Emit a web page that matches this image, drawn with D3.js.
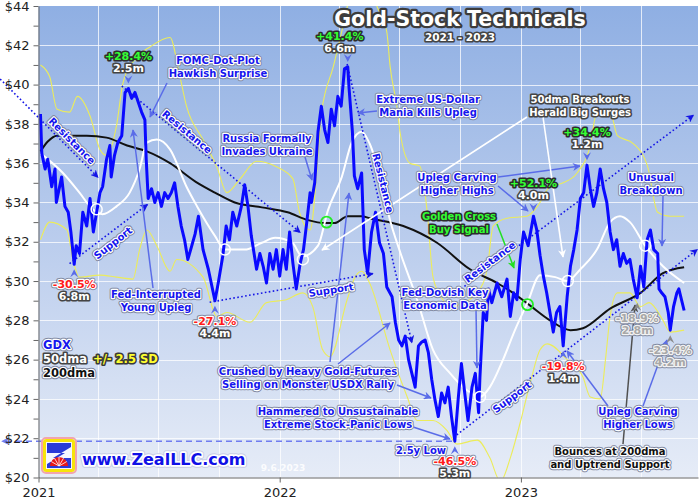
<!DOCTYPE html>
<html>
<head>
<meta charset="utf-8">
<script src="https://cdn.jsdelivr.net/npm/d3@7"></script>
<style>
  body { margin: 0; background: #fff; }
  svg { display: block; }
</style>
</head>
<body>
<svg id="chart" width="700" height="500"></svg>
<script>
// GDX closes (roughly every few trading days)
const gdxDates = ['2021-01-04','2021-01-06','2021-01-11','2021-01-15','2021-01-21','2021-01-26','2021-01-28','2021-02-05','2021-02-10','2021-02-15','2021-02-19','2021-02-24','2021-02-27','2021-03-04','2021-03-09','2021-03-15','2021-03-20','2021-03-25','2021-03-30','2021-04-04','2021-04-08','2021-04-14','2021-04-19','2021-04-21','2021-04-26','2021-05-01','2021-05-07','2021-05-12','2021-05-17','2021-05-22','2021-05-27','2021-06-01','2021-06-06','2021-06-11','2021-06-13','2021-06-16','2021-06-21','2021-06-26','2021-07-01','2021-07-06','2021-07-11','2021-07-16','2021-07-21','2021-07-26','2021-07-31','2021-08-05','2021-08-10','2021-08-15','2021-08-21','2021-08-26','2021-08-31','2021-09-07','2021-09-15','2021-09-25','2021-09-30','2021-10-07','2021-10-12','2021-10-17','2021-10-22','2021-10-28','2021-11-04','2021-11-09','2021-11-14','2021-11-19','2021-11-27','2021-12-02','2021-12-07','2021-12-12','2021-12-17','2021-12-22','2021-12-27','2022-01-01','2022-01-06','2022-01-11','2022-01-16','2022-01-21','2022-01-26','2022-02-01','2022-02-06','2022-02-11','2022-02-16','2022-02-18','2022-02-23','2022-02-28','2022-03-05','2022-03-10','2022-03-15','2022-03-20','2022-03-25','2022-03-30','2022-04-04','2022-04-09','2022-04-14','2022-04-16','2022-04-21','2022-04-24','2022-04-29','2022-05-05','2022-05-09','2022-05-14','2022-05-20','2022-05-26','2022-06-01','2022-06-07','2022-06-12','2022-06-20','2022-06-25','2022-06-30','2022-07-05','2022-07-10','2022-07-15','2022-07-20','2022-07-25','2022-07-30','2022-08-04','2022-08-09','2022-08-14','2022-08-19','2022-08-24','2022-08-29','2022-09-03','2022-09-08','2022-09-13','2022-09-18','2022-09-23','2022-09-28','2022-10-03','2022-10-08','2022-10-13','2022-10-19','2022-10-24','2022-10-29','2022-10-31','2022-11-05','2022-11-10','2022-11-13','2022-11-18','2022-11-26','2022-12-03','2022-12-11','2022-12-16','2022-12-21','2022-12-26','2022-12-31','2023-01-05','2023-01-12','2023-01-20','2023-01-25','2023-01-30','2023-02-04','2023-02-09','2023-02-14','2023-02-19','2023-02-24','2023-03-01','2023-03-06','2023-03-12','2023-03-17','2023-03-22','2023-03-27','2023-04-01','2023-04-06','2023-04-11','2023-04-16','2023-04-21','2023-04-26','2023-05-01','2023-05-06','2023-05-11','2023-05-16','2023-05-21','2023-05-26','2023-05-31','2023-06-05','2023-06-10','2023-06-15','2023-06-20','2023-06-26','2023-07-01','2023-07-06','2023-07-11','2023-07-16','2023-07-21','2023-07-27','2023-07-29','2023-08-02','2023-08-07','2023-08-12','2023-08-15','2023-08-20','2023-08-25','2023-08-28','2023-09-05'];
const gdxClose = [38.5,36.5,35.7,36.2,34.8,35.7,34.0,35.3,33.8,33.5,32.5,30.85,31.8,31.4,33.5,32.8,34.2,32.5,33.5,34.5,34.8,36.2,36.9,35.3,36.4,37.05,37.4,39.6,39.8,39.3,39.6,39.1,38.6,38.2,36.2,34.2,34.7,34.0,34.5,33.8,34.5,34.2,34.5,35.0,33.8,32.8,32.1,31.1,31.8,32.4,33.3,31.6,30.6,29.0,29.9,31.3,32.8,32.1,33.5,32.8,33.8,34.9,33.8,32.3,30.6,31.4,30.75,29.9,31.4,30.6,31.6,30.25,31.6,30.6,32.5,30.9,29.6,30.9,31.6,33.0,34.5,34.0,35.0,37.6,38.9,37.7,37.05,38.75,37.9,39.4,38.9,40.8,40.9,39.8,37.6,35.35,34.7,35.5,31.6,30.4,32.5,33.5,31.95,31.4,29.7,29.2,27.9,27.0,26.7,27.2,26.0,25.3,24.6,26.7,26.9,27.0,26.35,25.0,23.95,23.1,24.3,23.8,24.6,23.1,21.85,23.95,25.8,24.3,22.9,24.6,25.3,23.3,25.1,28.4,28.0,29.6,28.9,29.9,29.2,30.1,28.2,29.4,29.05,31.1,32.5,31.8,33.3,32.6,31.3,30.25,29.4,28.4,27.4,28.4,28.7,26.7,29.2,30.75,31.6,32.6,34.2,34.5,35.9,34.7,33.8,34.5,35.7,34.7,34.0,32.5,31.6,32.1,30.75,31.4,30.9,31.1,30.1,29.15,30.75,29.7,32.1,32.6,31.6,31.4,29.6,29.4,29.2,28.4,27.5,28.7,29.4,29.6,28.5];

// 50-day moving average (white)
const dma50Dates = ['2021-01-04','2021-02-07','2021-03-04','2021-03-24','2021-04-08','2021-04-29','2021-05-19','2021-06-03','2021-06-14','2021-06-29','2021-07-19','2021-08-13','2021-08-29','2021-09-25','2021-10-10','2021-11-09','2021-12-05','2021-12-25','2022-01-20','2022-02-04','2022-02-28','2022-03-15','2022-04-05','2022-04-20','2022-05-05','2022-05-17','2022-06-02','2022-06-17','2022-07-02','2022-07-28','2022-08-21','2022-09-16','2022-10-09','2022-10-31','2022-11-15','2022-12-05','2022-12-23','2023-01-11','2023-01-30','2023-02-22','2023-03-12','2023-04-01','2023-04-26','2023-05-16','2023-05-31','2023-06-15','2023-07-08','2023-08-04','2023-09-05'];
const dma50Values = [36.5,35.5,34.5,33.65,33.4,33.8,34.5,35.7,37.05,37.2,36.7,34.8,33.8,32.3,31.6,31.6,31.95,32.2,31.95,31.25,31.8,33.6,35.3,37.05,37.6,37.0,35.3,33.1,31.5,29.05,26.5,25.3,24.5,24.1,24.6,26.0,27.5,28.9,30.3,30.2,30.0,30.6,31.6,33.0,33.3,33.0,31.8,30.75,29.9];

// 200-day moving average (black)
const dma200Dates = ['2021-01-04','2021-01-15','2021-01-29','2021-03-15','2021-04-14','2021-05-15','2021-06-14','2021-07-19','2021-08-27','2021-09-25','2021-10-25','2021-12-05','2022-01-13','2022-02-13','2022-03-10','2022-03-25','2022-04-14','2022-05-05','2022-05-17','2022-07-07','2022-08-27','2022-10-16','2022-11-26','2022-12-20','2023-01-15','2023-02-14','2023-03-17','2023-04-05','2023-05-16','2023-07-01','2023-08-04','2023-09-05'];
const dma200Values = [36.6,37.1,37.4,37.4,37.3,36.9,36.6,36.0,35.05,34.5,34.0,33.75,33.5,33.1,32.95,32.95,33.3,33.3,33.2,32.8,31.95,30.6,29.9,29.4,28.75,28.0,27.5,27.6,28.6,29.4,30.4,30.7];

// 50dma +/- 2.5 standard deviations (yellow)
const upperDates = ['2021-01-04','2021-01-18','2021-01-29','2021-02-17','2021-03-01','2021-03-20','2021-04-04','2021-04-14','2021-04-29','2021-05-09','2021-05-30','2021-06-18','2021-07-19','2021-08-03','2021-08-13','2021-09-07','2021-09-28','2021-10-13','2021-11-02','2021-11-27','2021-12-28','2022-01-21','2022-01-31','2022-02-16','2022-03-06','2022-03-23','2022-04-07','2022-04-25','2022-05-10','2022-05-28','2022-06-12','2022-06-17','2022-06-28','2022-07-02','2022-07-17','2022-08-01','2022-08-12','2022-08-21','2022-09-05','2022-09-20','2022-10-06','2022-10-27','2022-11-11','2022-11-20','2022-12-11','2023-01-10','2023-01-26','2023-02-14','2023-03-06','2023-03-27','2023-04-16','2023-04-26','2023-05-16','2023-05-27','2023-06-20','2023-07-12','2023-07-27','2023-08-15','2023-09-05'];
const upperValues = [41.0,40.4,38.75,38.6,39.4,38.4,36.7,36.4,37.9,40.1,41.4,41.9,42.4,40.4,38.9,37.2,35.8,34.5,35.2,36.1,35.8,35.2,33.5,32.6,38.75,40.9,43.0,45.5,46.0,44.0,42.7,40.95,38.75,37.6,36.0,35.85,33.6,30.2,29.05,28.7,28.9,29.4,30.6,32.8,33.2,33.3,33.8,34.8,35.0,35.5,36.9,38.6,38.6,37.4,37.0,35.8,33.5,33.3,33.3];
const lowerDates = ['2021-01-04','2021-01-18','2021-02-13','2021-02-22','2021-03-04','2021-04-04','2021-04-29','2021-05-24','2021-06-03','2021-06-14','2021-06-29','2021-07-19','2021-07-29','2021-09-07','2021-09-28','2021-10-13','2021-11-17','2021-12-12','2022-01-11','2022-02-05','2022-02-20','2022-03-07','2022-03-18','2022-04-13','2022-04-25','2022-05-05','2022-05-17','2022-06-17','2022-07-13','2022-07-28','2022-08-21','2022-09-11','2022-09-26','2022-10-27','2022-11-15','2022-12-01','2022-12-16','2022-12-31','2023-01-15','2023-01-30','2023-02-10','2023-03-12','2023-04-05','2023-04-16','2023-05-01','2023-05-09','2023-05-16','2023-05-27','2023-06-15','2023-07-01','2023-07-14','2023-08-04','2023-08-15','2023-09-05'];
const lowerValues = [32.1,33.0,32.6,31.1,30.2,30.3,30.2,30.1,31.6,32.6,31.8,30.5,31.1,30.2,28.2,28.4,27.9,28.9,29.05,29.4,28.7,26.5,26.15,29.05,30.2,30.5,29.9,26.5,24.1,22.9,22.9,22.4,21.7,21.9,21.0,19.8,21.0,22.8,24.8,26.5,26.8,26.0,25.1,24.1,24.0,26.0,28.2,29.4,29.4,28.7,28.9,28.0,27.4,27.5];

// swing highs / lows with % move and duration
const swingDates = ['2021-02-24','2021-05-17','2021-09-25','2022-04-14','2022-09-23','2023-01-20','2023-03-06','2023-04-11','2023-06-26','2023-08-15'];
const swingPct = ['-30.5%','+28.4%','-27.1%','+41.4%','-46.5%','+52.1%','-19.8%','+34.4%','-18.9%','-23.4%'];
const swingDur = ['6.8m','2.5m','4.4m','6.6m','5.3m','4.0m','1.4m','1.2m','2.8m','4.2m'];

// 50dma crossing points (white rings) and 50/200 crosses (green rings)
const crossDates = ['2021-03-30','2021-10-10','2022-02-05','2022-10-31','2023-03-13','2023-07-08'];
const crossValues = [33.65,31.6,31.1,24.1,30.0,31.8];
const goldenDates = ['2022-03-13','2023-01-11'];
const goldenValues = [33.0,28.8];

// dotted trend channels: start date/price -> end date/price
const trendStart = ['2020-11-04','2021-02-17','2021-05-07','2021-09-17','2022-04-13','2022-09-23','2022-09-26'];
const trendStartPrice = [40.28,30.89,39.92,28.92,41.05,29.36,22.17];
const trendEnd = ['2021-04-01','2021-06-15','2022-02-01','2022-05-22','2022-07-20','2023-09-19','2023-09-25'];
const trendEndPrice = [35.28,33.9,32.47,30.38,26.86,38.44,31.61];
const lowLinePrice = 21.85;

const yTicks = d3.range(20, 45, 1);
const yearTicks = ['2021-01-01','2022-01-01','2023-01-01'];
const quarterTicks = ['2021-04-01','2021-07-01','2021-10-01','2022-01-01','2022-04-01','2022-07-01','2022-10-01','2023-01-01','2023-04-01','2023-07-01'];

const parse = d3.timeParse('%Y-%m-%d');
const zip = (ds, vs) => ds.map((d, i) => ({date: parse(d), value: vs[i]}));
const gdx = zip(gdxDates, gdxClose);
const dma50 = zip(dma50Dates, dma50Values);
const dma200 = zip(dma200Dates, dma200Values);
const upper = zip(upperDates, upperValues);
const lower = zip(lowerDates, lowerValues);

const plot = {left: 38.5, right: 698, top: 6, bottom: 477.5};
const x = d3.scaleTime().domain([parse('2021-01-01'), parse('2023-09-26')]).range([plot.left, plot.right]);
const y = d3.scaleLinear().domain([20, 44]).range([plot.bottom, plot.top]);

const svg = d3.select('#chart');
const defs = svg.append('defs');

const grad = defs.append('linearGradient').attr('id', 'bg').attr('x1', 0).attr('y1', 0).attr('x2', 0).attr('y2', 1);
grad.append('stop').attr('offset', '0%').attr('stop-color', '#8fafe3');
grad.append('stop').attr('offset', '55%').attr('stop-color', '#bfd0ee');
grad.append('stop').attr('offset', '100%').attr('stop-color', '#e6ecf7');

defs.append('clipPath').attr('id', 'clip')
    .append('rect')
    .attr('x', plot.left).attr('y', plot.top)
    .attr('width', plot.right - plot.left).attr('height', plot.bottom - plot.top);

// arrowhead markers, one per colour
const markerColors = {blue: '#5a6ce8', dot: '#1414e6', white: '#ffffff', green: '#22e022', gray: '#505050', dash: '#6f7cf0'};
Object.entries(markerColors).forEach(([k, c]) => {
    defs.append('marker')
        .attr('id', 'arrow-' + k)
        .attr('viewBox', '0 0 10 10')
        .attr('refX', 9).attr('refY', 5)
        .attr('markerWidth', 8).attr('markerHeight', 8)
        .attr('markerUnits', 'userSpaceOnUse')
        .attr('orient', 'auto-start-reverse')
        .append('path')
        .attr('d', 'M0,0 L10,5 L0,10 L3,5 Z')
        .attr('fill', c);
});

// background + grid
svg.append('rect')
    .attr('x', plot.left).attr('y', plot.top)
    .attr('width', plot.right - plot.left).attr('height', plot.bottom - plot.top)
    .attr('fill', 'url(#bg)');

const grid = svg.append('g').attr('stroke', '#ffffff').attr('stroke-opacity', 0.75).attr('stroke-width', 1);
grid.selectAll('.hgrid')
    .data(d3.range(22, 44, 2))
    .enter().append('line')
    .attr('x1', plot.left).attr('x2', plot.right)
    .attr('y1', d => Math.round(y(d)) + 0.5).attr('y2', d => Math.round(y(d)) + 0.5);
grid.selectAll('.vgrid')
    .data(quarterTicks.map(parse))
    .enter().append('line')
    .attr('y1', plot.top).attr('y2', plot.bottom)
    .attr('x1', d => Math.round(x(d)) + 0.5).attr('x2', d => Math.round(x(d)) + 0.5);

// series
const series = svg.append('g').attr('clip-path', 'url(#clip)');
const smooth = d3.line().x(d => x(d.date)).y(d => y(d.value)).curve(d3.curveMonotoneX);
const straight = d3.line().x(d => x(d.date)).y(d => y(d.value));

series.append('path').datum(upper).attr('d', smooth)
    .attr('fill', 'none').attr('stroke', '#ecec5a').attr('stroke-width', 1.1);
series.append('path').datum(lower).attr('d', smooth)
    .attr('fill', 'none').attr('stroke', '#ecec5a').attr('stroke-width', 1.1);
series.append('path').datum(dma200).attr('d', smooth)
    .attr('fill', 'none').attr('stroke', '#111111').attr('stroke-width', 2);
series.append('path').datum(dma50).attr('d', smooth)
    .attr('fill', 'none').attr('stroke', '#ffffff').attr('stroke-width', 2);

// 2.5y low dashed reference line
svg.append('line')
    .attr('x1', 452).attr('x2', 2)
    .attr('y1', y(lowLinePrice)).attr('y2', y(lowLinePrice))
    .attr('stroke', '#6f7cf0').attr('stroke-width', 1.5).attr('stroke-dasharray', '6,4')
    .attr('marker-end', 'url(#arrow-dash)');

// trend channels
const trends = trendStart.map((d, i) => ({
    x1: x(parse(d)), y1: y(trendStartPrice[i]),
    x2: x(parse(trendEnd[i])), y2: y(trendEndPrice[i])
}));
svg.append('g').selectAll('line')
    .data(trends)
    .enter().append('line')
    .attr('x1', d => d.x1).attr('y1', d => d.y1)
    .attr('x2', d => d.x2).attr('y2', d => d.y2)
    .attr('stroke', '#1414e6').attr('stroke-width', 1.6).attr('stroke-dasharray', '1.6,2.4')
    .attr('marker-end', 'url(#arrow-dot)');

series.append('path').datum(gdx).attr('d', straight)
    .attr('fill', 'none').attr('stroke', '#0a0aff').attr('stroke-width', 3)
    .attr('stroke-linejoin', 'round');

// rings
svg.append('g').selectAll('circle')
    .data(crossDates.map((d, i) => ({date: parse(d), value: crossValues[i]})))
    .enter().append('circle')
    .attr('cx', d => x(d.date)).attr('cy', d => y(d.value)).attr('r', 5.5)
    .attr('fill', 'none').attr('stroke', '#ffffff').attr('stroke-width', 1.5);
svg.append('g').selectAll('circle')
    .data(goldenDates.map((d, i) => ({date: parse(d), value: goldenValues[i]})))
    .enter().append('circle')
    .attr('cx', d => x(d.date)).attr('cy', d => y(d.value)).attr('r', 5.5)
    .attr('fill', 'none').attr('stroke', '#22ee22').attr('stroke-width', 1.8);

// axes
const yAxis = svg.append('g')
    .attr('transform', `translate(${plot.left},0)`)
    .call(d3.axisLeft(y).tickValues(yTicks).tickSize(5).tickSizeOuter(0).tickPadding(4)
        .tickFormat(d => d % 2 === 0 ? '$' + d : ''));
const xAxis = svg.append('g')
    .attr('transform', `translate(0,${plot.bottom})`)
    .call(d3.axisBottom(x).tickValues(yearTicks.map(parse)).tickSize(5).tickSizeOuter(0).tickPadding(5)
        .tickFormat(d3.timeFormat('%Y')));
[yAxis, xAxis].forEach(a => {
    a.select('.domain').attr('stroke', '#666');
    a.selectAll('.tick line').attr('stroke', '#666');
    a.selectAll('.tick text').attr('fill', '#222').style('font-family', 'DejaVu Sans, sans-serif').style('font-size', '13px');
});

// outlined text helper
const haloStyles = {
    blue:   {fill: '#1616ee', inner: '#ffffff', innerW: 2.4, outer: '#7e879f', outerW: 4.4},
    red:    {fill: '#ff1a1a', inner: '#ffffff', innerW: 2.4, outer: '#7e879f', outerW: 4.4},
    gray:   {fill: '#a8a8a8', inner: '#f2f2f2', innerW: 2.4, outer: '#7e879f', outerW: 4.4},
    black:  {fill: '#111111', inner: '#ffffff', innerW: 2.4, outer: '#7e879f', outerW: 4.4},
    white:  {fill: '#ffffff', inner: '#444444', innerW: 3.2},
    green:  {fill: '#33ff33', inner: '#2c2c2c', innerW: 3.2},
    yellow: {fill: '#ffff30', inner: '#3a3a3a', innerW: 3.2},
    title:  {fill: '#ffffff', inner: '#3c3c3c', innerW: 4.5},
    url:    {fill: '#1010e6', inner: '#ffffff', innerW: 3.5, outer: '#c8cde6', outerW: 5.5}
};

function haloText(parent, px, py, lines, kind, opts = {}) {
    const s = haloStyles[kind];
    const size = opts.size || 10, lh = opts.lh || 12.5;
    const g = parent.append('g')
        .attr('transform', `translate(${px},${py})` + (opts.rotate ? ` rotate(${opts.rotate})` : ''))
        .attr('font-family', 'DejaVu Sans, Verdana, sans-serif')
        .attr('font-weight', 'bold')
        .attr('font-size', size)
        .attr('text-anchor', opts.anchor || 'middle');
    lines.forEach((line, i) => {
        const dy = opts.center ? '0.35em' : null;
        if (s.outer) {
            g.append('text').attr('y', i * lh).attr('dy', dy)
                .attr('fill', s.outer).attr('stroke', s.outer).attr('stroke-width', s.outerW)
                .attr('stroke-linejoin', 'round').text(line);
        }
        g.append('text').attr('y', i * lh).attr('dy', dy)
            .attr('fill', s.fill).attr('stroke', s.inner).attr('stroke-width', s.innerW)
            .attr('stroke-linejoin', 'round').attr('paint-order', 'stroke').text(line);
    });
    return g;
}

// annotation pointer arrows (layout)
const pointers = [
    [167, 83, 150, 117, 'blue'], [305, 157, 312, 180, 'blue'], [377, 111, 358, 113, 'blue'],
    [153, 288, 133, 130, 'blue'], [330, 362, 349, 193, 'blue'], [338, 364, 390, 323, 'blue'],
    [397, 385, 431, 398, 'blue'], [476, 309, 477, 368, 'blue'], [413, 427, 450, 439, 'blue'],
    [498, 177, 580, 166, 'blue'], [498, 186, 528, 211, 'blue'], [527, 117, 322, 250, 'white'],
    [543, 117, 563, 257, 'white'], [497, 224, 514, 268, 'green'], [663, 196, 662, 246, 'blue'],
    [608, 406, 567, 351, 'blue'], [643, 406, 667, 340, 'blue'], [623, 444, 635, 305, 'gray']
];
svg.append('g').selectAll('line')
    .data(pointers)
    .enter().append('line')
    .attr('x1', d => d[0]).attr('y1', d => d[1])
    .attr('x2', d => d[2]).attr('y2', d => d[3])
    .attr('stroke', d => markerColors[d[4]])
    .attr('stroke-width', d => d[4] === 'white' ? 1.6 : 1.5)
    .attr('marker-end', d => `url(#arrow-${d[4]})`);

// swing labels (the April 2022 one sits left of its peak, under the title)
const labelShift = {3: [-8, 2]};
const ann = svg.append('g');
const closeByDate = new Map(gdx.map(d => [d3.timeFormat('%Y-%m-%d')(d.date), d.value]));
swingDates.forEach((d, i) => {
    const px = x(parse(d)), py = y(closeByDate.get(d));
    const [sx, sy] = labelShift[i] || [0, 0];
    const lx = px + sx;
    const high = swingPct[i][0] === '+';
    const muted = i >= 8;
    const arrowColor = muted ? '#8a8a8a' : '#5a6ce8';
    if (high) {
        const tip = py - 5;
        ann.append('path').attr('d', `M${px - 4},${tip - 8} L${px},${tip} L${px + 4},${tip - 8} L${px},${tip - 5} Z`).attr('fill', arrowColor);
        haloText(ann, lx, py - 29 + sy, [swingPct[i]], 'green', {size: 11});
        haloText(ann, lx, py - 17 + sy, [swingDur[i]], 'white', {size: 11});
    } else {
        const tip = py + 5;
        ann.append('path').attr('d', `M${px - 4},${tip + 8} L${px},${tip} L${px + 4},${tip + 8} L${px},${tip + 5} Z`).attr('fill', arrowColor);
        haloText(ann, lx, py + 24 + sy, [swingPct[i]], muted ? 'gray' : 'red', {size: 11});
        haloText(ann, lx, py + 36 + sy, [swingDur[i]], muted ? 'gray' : 'white', {size: 11});
    }
});

// trend channel labels
haloText(ann, 72, 141, ['Resistance'], 'blue', {rotate: 45, center: true});
haloText(ann, 113, 243, ['Support'], 'blue', {rotate: -38, center: true});
haloText(ann, 187, 132, ['Resistance'], 'blue', {rotate: 40, center: true});
haloText(ann, 331, 290, ['Support'], 'blue', {rotate: -9, center: true});
haloText(ann, 383, 183, ['Resistance'], 'blue', {rotate: 76, center: true});
haloText(ann, 490, 262, ['Resistance'], 'blue', {rotate: -37, center: true});
haloText(ann, 512, 397, ['Support'], 'blue', {rotate: -37, center: true});

// notes
haloText(ann, 218, 64, ['FOMC-Dot-Plot', 'Hawkish Surprise'], 'blue');
haloText(ann, 267, 142, ['Russia Formally', 'Invades Ukraine'], 'blue');
haloText(ann, 428, 103, ['Extreme US-Dollar', 'Mania Kills Upleg'], 'blue');
haloText(ann, 580, 103, ['50dma Breakouts', 'Herald Big Surges'], 'white');
haloText(ann, 457, 181, ['Upleg Carving', 'Higher Highs'], 'blue');
haloText(ann, 459, 220, ['Golden Cross', 'Buy Signal'], 'green');
haloText(ann, 651, 181, ['Unusual', 'Breakdown'], 'blue');
haloText(ann, 156, 298, ['Fed-Interrupted', 'Young Upleg'], 'blue');
haloText(ann, 308, 375, ['Crushed by Heavy Gold-Futures', 'Selling on Monster USDX Rally'], 'blue');
haloText(ann, 445, 296, ['Fed-Dovish Key', 'Economic Data'], 'blue');
haloText(ann, 338, 415, ['Hammered to Unsustainable', 'Extreme Stock-Panic Lows'], 'blue');
haloText(ann, 421, 454, ['2.5y Low'], 'blue');
haloText(ann, 638, 415, ['Upleg Carving', 'Higher Lows'], 'blue');
haloText(ann, 610, 455, ['Bounces at 200dma', 'and Uptrend Support'], 'black');

// legend
haloText(ann, 43, 349, ['GDX'], 'blue', {size: 11.5, anchor: 'start'});
haloText(ann, 43, 363, ['50dma'], 'white', {size: 11.5, anchor: 'start'});
haloText(ann, 93, 363, ['+/- 2.5 SD'], 'yellow', {size: 11.5, anchor: 'start'});
haloText(ann, 43, 377, ['200dma'], 'black', {size: 11.5, anchor: 'start'});

// title
haloText(ann, 460, 25.5, ['Gold-Stock Technicals'], 'title', {size: 20.5});
haloText(ann, 460, 41, ['2021 - 2023'], 'white', {size: 10.5});

// logo + url + date stamp
const logo = svg.append('g');
logo.append('rect').attr('x', 42).attr('y', 438).attr('width', 34).attr('height', 35).attr('rx', 4)
    .attr('fill', 'none').attr('stroke', '#f2a4ae').attr('stroke-width', 2);
logo.append('rect').attr('x', 44.5).attr('y', 440.5).attr('width', 29).attr('height', 30).attr('rx', 2)
    .attr('fill', '#f4f6ff').attr('stroke', '#f6e40c').attr('stroke-width', 3);
logo.append('path').attr('d', 'M47,443 H71 V447 L53,458 H71 V468 H47 V464 L65,453 H47 Z').attr('fill', '#2a3ad8');
logo.append('path').attr('d', 'M50,466 A9,9 0 0 1 68,466 Z').attr('fill', '#e81818');
logo.selectAll('.ray')
    .data(d3.range(1, 6))
    .enter().append('line')
    .attr('x1', 59).attr('y1', 466)
    .attr('x2', d => 59 + 9 * Math.cos(Math.PI * d / 6 + Math.PI))
    .attr('y2', d => 466 + 9 * Math.sin(Math.PI * d / 6 + Math.PI))
    .attr('stroke', '#ffffff').attr('stroke-width', 0.8);

haloText(svg, 82, 465, ['www.ZealLLC.com'], 'url', {size: 16, anchor: 'start'});
svg.append('text').attr('x', 283).attr('y', 471).attr('text-anchor', 'middle')
    .attr('font-family', 'DejaVu Sans, sans-serif').attr('font-weight', 'bold').attr('font-size', 9)
    .attr('fill', '#ffffff').attr('fill-opacity', 0.9).text('9.6.2023');
</script>
</body>
</html>
